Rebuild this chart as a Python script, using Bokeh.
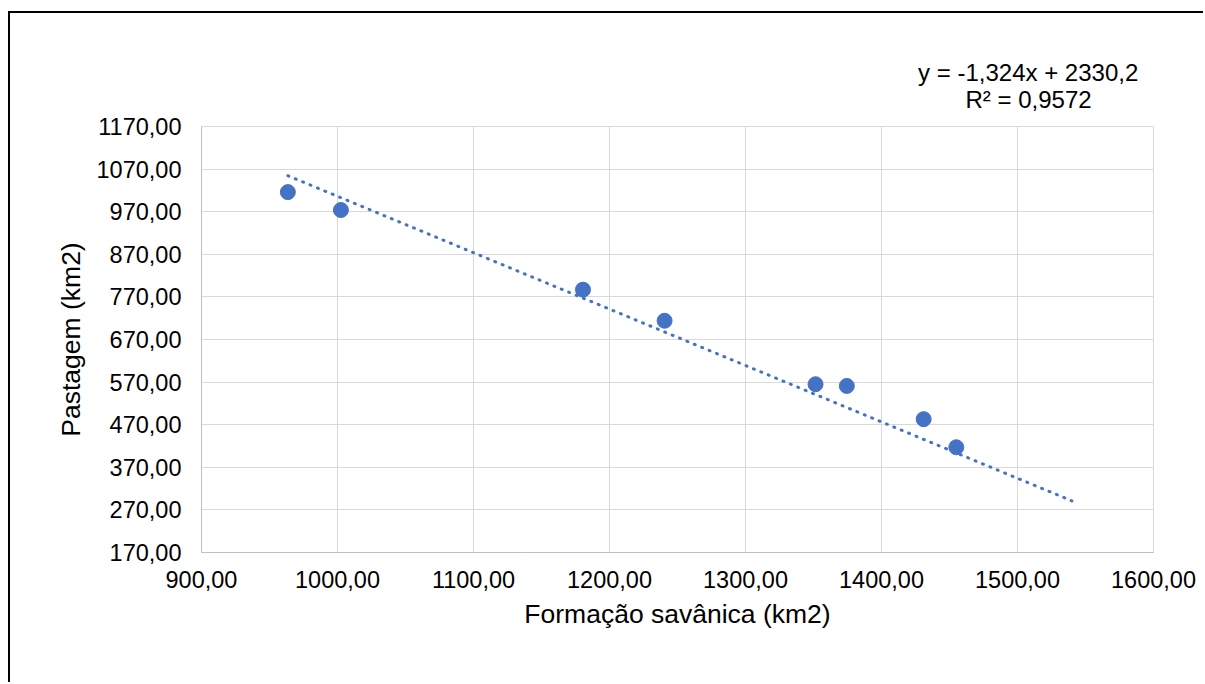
from bokeh.plotting import figure
from bokeh.models import FixedTicker, Range1d, Title
from bokeh.embed import file_html
from bokeh.resources import INLINE

# Data
formacao_savanica = [963.5, 1002.5, 1180.5, 1240.5, 1351.5, 1374.5, 1431.0, 1455.0]
pastagem = [1016.0, 974.0, 787.0, 714.0, 565.0, 561.0, 483.0, 417.0]

# Trendline as displayed (linear, forward forecast to ~1540)
trend_slope = -1.324
trend_intercept = 2330.2
trend_x = [963.5, 1540.0]
trend_y = [trend_slope * v + trend_intercept for v in trend_x]

x_ticks = [900, 1000, 1100, 1200, 1300, 1400, 1500, 1600]
x_tick_labels = ["900,00", "1000,00", "1100,00", "1200,00", "1300,00", "1400,00", "1500,00", "1600,00"]
y_ticks = [170, 270, 370, 470, 570, 670, 770, 870, 970, 1070, 1170]
y_tick_labels = ["170,00", "270,00", "370,00", "470,00", "570,00", "670,00", "770,00",
                 "870,00", "970,00", "1070,00", "1170,00"]

equation_text = "y = -1,324x + 2330,2"
r2_text = "R² = 0,9572"

FONT = "Liberation Sans"
BLUE = "#4472C4"
GRID = "#d9d9d9"

p = figure(width=1195, height=671, output_backend="svg", toolbar_location=None,
           x_range=Range1d(900, 1600), y_range=Range1d(170, 1170),
           min_border_left=191, min_border_right=52, min_border_top=113, min_border_bottom=132,
           background_fill_color="white", border_fill_color="white",
           margin=(11, 0, 0, 8),
           styles={"border-left": "2px solid #000", "border-top": "2px solid #000"})
p.outline_line_color = GRID
p.outline_line_width = 1

for ax, ticks, labels in ((p.xaxis[0], x_ticks, x_tick_labels), (p.yaxis[0], y_ticks, y_tick_labels)):
    ax.ticker = FixedTicker(ticks=ticks)
    ax.major_label_overrides = {t: l for t, l in zip(ticks, labels)}
    ax.major_tick_line_color = None
    ax.minor_tick_line_color = None
    ax.major_tick_out = 0
    ax.major_tick_in = 0
    ax.minor_tick_out = 0
    ax.major_label_text_font = FONT
    ax.major_label_text_font_size = "23.5px"
    ax.major_label_text_color = "#000000"
    ax.axis_label_text_font = FONT
    ax.axis_label_text_font_size = "26.5px"
    ax.axis_label_text_font_style = "normal"
    ax.axis_label_text_color = "#000000"
    ax.axis_line_color = "#bfbfbf"

p.xaxis.axis_label = "Formação savânica (km2)"
p.yaxis.axis_label = "Pastagem (km2)"
p.xaxis.major_label_standoff = 18
p.yaxis.major_label_standoff = 20
p.xaxis.axis_label_standoff = 8
p.yaxis.axis_label_standoff = 8

p.xgrid.ticker = FixedTicker(ticks=x_ticks)
p.ygrid.ticker = FixedTicker(ticks=y_ticks)
p.xgrid.grid_line_color = GRID
p.ygrid.grid_line_color = GRID

p.line(trend_x, trend_y, line_color=BLUE, line_width=3, line_dash="1 7", line_cap="round")
p.scatter(formacao_savanica, pastagem, size=15, fill_color=BLUE, line_color=BLUE)

p.add_layout(Title(text=r2_text, align="left", offset=764, standoff=27,
                   text_font=FONT, text_font_size="24px", text_font_style="normal",
                   text_color="#000000"), "above")
p.add_layout(Title(text=equation_text, align="left", offset=716.6, standoff=-30,
                   text_font=FONT, text_font_size="24px", text_font_style="normal",
                   text_color="#000000"), "above")

open("out.html", "w").write(file_html(p, INLINE))
